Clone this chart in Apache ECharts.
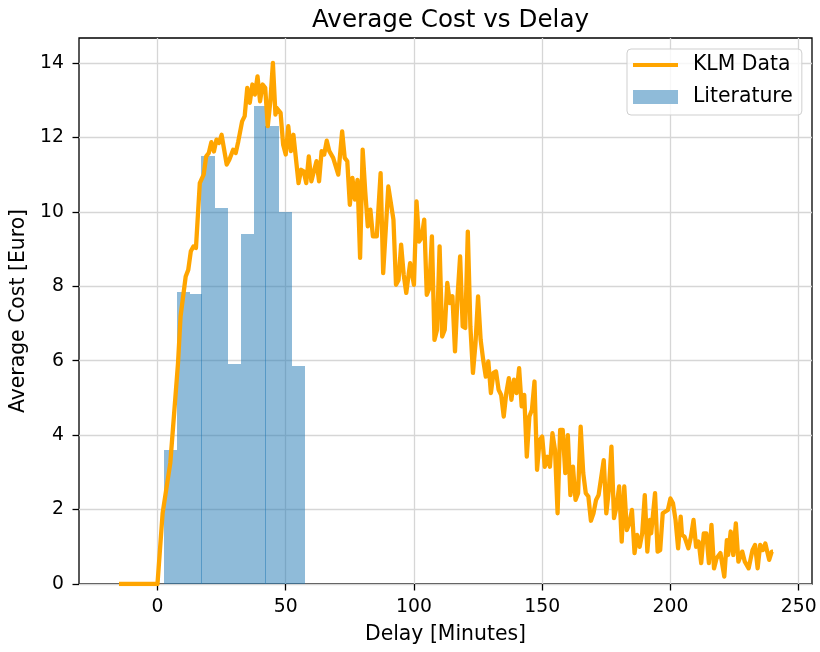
<!DOCTYPE html>
<html>
<head>
<meta charset="utf-8">
<script src="https://cdn.jsdelivr.net/npm/echarts@6/dist/echarts.min.js"></script>
<style>
  html, body { margin: 0; padding: 0; background: #ffffff; }
  #chart { width: 820px; height: 652px; }
</style>
</head>
<body>
<div id="chart"></div>
<script>
// KLM average cost per delay minute
const klmDelay = [
  -15, 0, 2, 5, 8, 9, 11, 12, 13, 14, 15, 16.5, 18, 19, 20, 21, 22, 23, 24, 25,
  27, 28, 29.5, 30.5, 31.5, 33, 34, 35, 36, 37, 38, 39, 40, 41, 42, 43, 44, 45, 46, 46.5,
  48, 49, 50, 51, 52, 53, 55, 56, 57, 58, 59, 60, 62, 63, 64, 65, 66, 67, 68.5, 70.5,
  72, 73, 74, 75, 76, 77, 78, 79, 80, 81, 82, 83, 84, 85.5, 87, 88, 90, 92, 93, 94,
  95, 96, 97, 98.5, 100, 101, 102, 103, 104, 105, 106, 107, 108, 109, 110, 111, 112, 113, 114, 115,
  116, 117, 118, 119, 120, 121, 122, 123, 124, 125, 126, 127, 128, 129, 130, 131, 132, 133, 134, 135,
  136, 137, 138, 139, 140, 141, 142, 143, 144, 145, 146, 147, 148, 149, 150, 151, 152, 153, 154, 155,
  156, 157, 158, 159, 160, 161, 162, 163, 164, 165, 166, 167, 168, 169, 170, 171, 172, 174, 175, 176,
  177, 178, 179, 180, 181, 182, 183, 184, 185, 186, 187, 188, 189, 190, 191, 192, 192.5, 193, 194, 195,
  196, 197, 199, 200, 201, 202, 203, 204, 204.5, 205.5, 207, 208, 209, 210, 211, 212, 213, 214, 215, 216,
  217, 218, 219.5, 221, 222, 222.5, 223.5, 224.5, 225.5, 226.5, 228, 229, 230.5, 232, 233, 234, 235, 236, 237, 238.5,
  239.5, 240
];
const klmCost = [
  0, 0, 1.9, 3.25, 5.93, 7.19, 8.26, 8.44, 8.94, 9.07, 9.03, 10.77, 11.0, 11.49, 11.58, 11.87, 11.62, 11.94, 11.85, 12.07,
  11.27, 11.4, 11.67, 11.58, 11.89, 12.43, 12.57, 13.33, 12.93, 13.42, 13.15, 13.64, 12.97, 13.42, 13.33, 12.3, 12.97, 14.0, 12.61, 12.79,
  12.66, 11.8, 11.54, 12.3, 11.63, 12.07, 10.77, 11.13, 11.09, 10.77, 11.49, 10.82, 11.36, 10.82, 11.63, 11.54, 11.91, 11.63, 11.45, 11.0,
  12.16, 11.45, 11.36, 10.19, 10.91, 10.33, 10.86, 8.76, 11.67, 10.55, 9.61, 10.06, 9.34, 9.34, 11.04, 8.35, 10.68, 9.79, 8.04, 8.17,
  9.12, 8.31, 7.82, 8.62, 8.04, 10.28, 9.2, 9.3, 9.79, 7.77, 7.95, 9.34, 6.56, 6.83, 9.07, 6.65, 6.83, 8.09, 7.55, 7.73,
  6.25, 7.73, 8.8, 6.92, 6.88, 9.47, 6.92, 5.67, 6.47, 7.73, 6.56, 6.02, 5.57, 5.98, 5.13, 5.67, 5.71, 5.22, 5.08, 4.5,
  5.13, 5.53, 4.95, 5.49, 5.13, 5.8, 4.77, 5.08, 3.42, 4.5, 4.68, 5.44, 3.07, 3.87, 3.96, 3.15, 3.42, 3.15, 4.05, 3.6,
  1.9, 4.14, 4.14, 2.98, 4.0, 2.39, 3.15, 2.26, 2.44, 4.23, 2.98, 2.44, 2.35, 1.7, 1.9, 2.26, 2.39, 3.33, 1.9, 2.53,
  3.69, 1.77, 2.08, 2.62, 1.14, 2.62, 1.45, 1.63, 1.99, 0.83, 1.32, 1.0, 1.36, 2.39, 0.87, 1.72, 1.36, 1.72, 2.44, 0.87,
  0.91, 1.9, 1.99, 2.3, 2.17, 1.72, 0.96, 1.81, 1.32, 1.27, 0.96, 1.27, 1.72, 1.0, 1.14, 0.56, 1.36, 1.36, 0.56, 1.59,
  0.42, 0.69, 0.83, 0.2, 1.18, 0.78, 1.41, 0.78, 1.63, 0.6, 0.87, 0.6, 0.42, 0.91, 1.05, 0.42, 1.05, 0.91, 1.09, 0.65,
  0.87, 0.87
];

// Literature cost histogram: bin edges, bar heights and the source each bar comes from
const litBinEdges = [2.5, 7.5, 12.5, 17.5, 22.5, 27.5, 32.5, 37.5, 42.5, 47.5, 52.5, 57.5];
const litCost = [3.6, 7.85, 7.8, 11.5, 10.1, 5.9, 9.4, 12.85, 12.3, 10.0, 5.85];
const litSource = ['A', 'A', 'A', 'B', 'B', 'B', 'B', 'B', 'C', 'C', 'C'];

// Axis ticks
const xTicks = [0, 50, 100, 150, 200, 250];
const yTicks = [0, 2, 4, 6, 8, 10, 12, 14];

const FONT = 'DejaVu Sans';
const BLUE = '#1f77b4';
const BLUE_HALF = '#8fbbd9';
const ORANGE = '#ffa500';

const klmPoints = klmDelay.map((d, i) => [d, klmCost[i]]);
const litBars = litCost.map((v, i) => [
  litBinEdges[i], litBinEdges[i + 1], v,
  i > 0 && litSource[i] !== litSource[i - 1] ? 1 : 0
]);

const tickText = { fontFamily: FONT, fontSize: 18.8, color: '#000000' };
const labelText = { fontFamily: FONT, fontSize: 20.4, color: '#000000' };
const tickLine = { color: '#000000', width: 1.3 };
const gridLine = { color: '#d6d6d6', width: 1.3 };

const chart = echarts.init(document.getElementById('chart'), null, { renderer: 'canvas' });

chart.setOption({
  animation: false,
  backgroundColor: '#ffffff',
  title: {
    text: 'Average Cost vs Delay',
    left: 445.5,
    top: 3,
    textAlign: 'center',
    textStyle: { fontFamily: FONT, fontSize: 24.6, fontWeight: 'normal', color: '#000000' }
  },
  grid: {
    left: 79, right: 8, top: 38, bottom: 68,
    show: true,
    borderColor: '#000000',
    borderWidth: 1.3,
    backgroundColor: 'transparent'
  },
  legend: {
    orient: 'vertical',
    left: 627,
    top: 49,
    padding: [6, 9, 8, 6],
    itemGap: 12,
    itemWidth: 45,
    itemHeight: 14,
    backgroundColor: 'rgba(255,255,255,0.8)',
    borderColor: '#cfcfcf',
    borderWidth: 1,
    borderRadius: 4,
    textStyle: { fontFamily: FONT, fontSize: 20.4, color: '#000000', padding: [0, 0, 0, 10] },
    data: [
      { name: 'KLM Data', icon: 'path://M0,0 L45,0 L45,4 L0,4 Z', itemStyle: { color: ORANGE, opacity: 1 } },
      { name: 'Literature', icon: 'rect', itemStyle: { color: BLUE_HALF, opacity: 1 } }
    ]
  },
  xAxis: {
    type: 'value',
    min: -30.6,
    max: 255.2,
    name: 'Delay [Minutes]',
    nameLocation: 'middle',
    nameGap: 41,
    nameTextStyle: labelText,
    axisLine: { show: false, onZero: false },
    axisTick: { show: true, customValues: xTicks, length: 6.5, lineStyle: tickLine },
    axisLabel: Object.assign({ customValues: xTicks, margin: 14 }, tickText),
    splitLine: { show: true, lineStyle: gridLine }
  },
  yAxis: {
    type: 'value',
    min: 0,
    max: 14.67,
    interval: 2,
    name: 'Average Cost [Euro]',
    nameLocation: 'middle',
    nameGap: 47,
    nameTextStyle: labelText,
    axisLine: { show: false, onZero: false },
    axisTick: { show: true, customValues: yTicks, length: 6.5, lineStyle: tickLine },
    axisLabel: Object.assign({ customValues: yTicks, margin: 15 }, tickText),
    splitLine: { show: true, lineStyle: gridLine }
  },
  series: [
    {
      type: 'custom',
      name: 'Literature',
      z: 2,
      itemStyle: { color: BLUE, opacity: 0.5 },
      encode: { x: [0, 1], y: 2 },
      data: litBars,
      renderItem: function (params, api) {
        const topLeft = api.coord([api.value(0), api.value(2)]);
        const bottomRight = api.coord([api.value(1), 0]);
        const x0 = Math.round(topLeft[0]) - (api.value(3) ? 1 : 0);
        const x1 = Math.round(bottomRight[0]);
        const y0 = Math.round(topLeft[1]);
        const y1 = Math.round(bottomRight[1]);
        return {
          type: 'rect',
          shape: { x: x0, y: y0, width: x1 - x0, height: y1 - y0 },
          style: { fill: BLUE, opacity: 0.5 }
        };
      }
    },
    {
      type: 'line',
      name: 'KLM Data',
      z: 3,
      data: klmPoints,
      symbol: 'none',
      showSymbol: false,
      itemStyle: { color: ORANGE },
      lineStyle: { color: ORANGE, width: 4.3, join: 'round' }
    }
  ]
});
</script>
</body>
</html>
